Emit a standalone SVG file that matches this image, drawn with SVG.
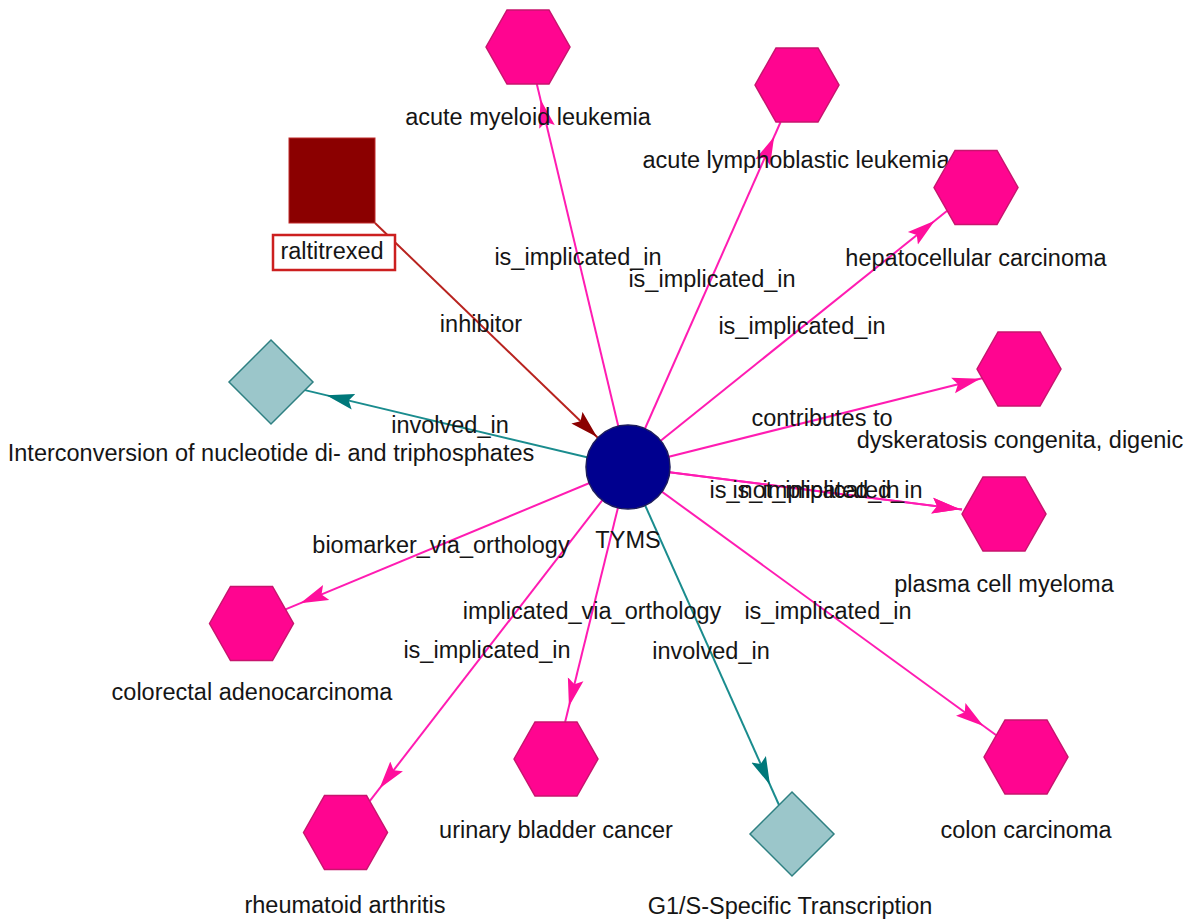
<svg xmlns="http://www.w3.org/2000/svg" xmlns:xlink="http://www.w3.org/1999/xlink" width="1189" height="922" viewBox="0 0 1189 922">
<style>
text{font-family:"Liberation Sans",Arial,Helvetica,sans-serif;font-size:23.5px;fill:#151515;text-anchor:middle}
.hex{fill:#ff0590;stroke:#c8146e;stroke-width:1.5}
.dia{fill:#9bc6ca;stroke:#2f8082;stroke-width:1.5}
.pk{stroke:#ff1cb2;stroke-width:2;fill:none;marker-end:url(#apk)}
.pk0{stroke:#ff1cb2;stroke-width:2;fill:none;marker-end:url(#apk0)}
.tl{stroke:#1a8c8e;stroke-width:2;fill:none;marker-end:url(#atl)}
.rd{stroke:#b8231f;stroke-width:2;fill:none;marker-end:url(#ard)}
</style>
<defs>
<polygon id="hexs" points="-42,0 -21,-37 21,-37 42,0 21,37 -21,37"/>
<polygon id="dias" points="0,-42 42,0 0,42 -42,0"/>
<marker id="apk" markerUnits="userSpaceOnUse" markerWidth="46" markerHeight="18" viewBox="0 0 46 18" refX="44" refY="9" orient="auto"><path d="M0,1 L28,9 L0,17 L5,9 z" fill="#ff0f9c"/></marker>
<marker id="apk0" markerUnits="userSpaceOnUse" markerWidth="32" markerHeight="18" viewBox="0 0 32 18" refX="30" refY="9" orient="auto"><path d="M0,1 L28,9 L0,17 L5,9 z" fill="#ff0f9c"/></marker>
<marker id="atl" markerUnits="userSpaceOnUse" markerWidth="52" markerHeight="18" viewBox="0 0 52 18" refX="50" refY="9" orient="auto"><path d="M0,1 L28,9 L0,17 L5,9 z" fill="#00787a"/></marker>
<marker id="ard" markerUnits="userSpaceOnUse" markerWidth="32" markerHeight="18" viewBox="0 0 32 18" refX="29" refY="9" orient="auto"><path d="M0,1 L28,9 L0,17 L5,9 z" fill="#8b0000"/></marker>
</defs>
<rect width="1189" height="922" fill="#ffffff"/>
<g id="edges">
<line class="pk" x1="628" y1="467" x2="536.8" y2="84"/>
<line class="pk" x1="628" y1="467" x2="780.6" y2="122"/>
<line class="pk" x1="628" y1="467" x2="947.2" y2="210.7"/>
<line class="pk0" x1="628" y1="467" x2="982.2" y2="378.2"/>
<line class="pk0" x1="628" y1="467" x2="962" y2="509.4"/>
<line class="pk0" x1="628" y1="467" x2="962" y2="509.4"/>
<line class="pk" x1="628" y1="467" x2="996.3" y2="735.3"/>
<line class="tl" x1="628" y1="467" x2="779" y2="805"/>
<line class="pk" x1="628" y1="467" x2="565.1" y2="722"/>
<line class="pk" x1="628" y1="467" x2="369.7" y2="801.2"/>
<line class="pk" x1="628" y1="467" x2="285.5" y2="609.4"/>
<line class="tl" x1="628" y1="467" x2="304.9" y2="390.1"/>
<line class="rd" x1="375" y1="223" x2="597.8" y2="437.8"/>
</g>
<g id="edge-labels">
<text x="578" y="265">is_implicated_in</text>
<text x="712" y="287">is_implicated_in</text>
<text x="802" y="334">is_implicated_in</text>
<text x="481" y="332">inhibitor</text>
<text x="450" y="433">involved_in</text>
<text x="822" y="426">contributes to</text>
<text x="816" y="498">is_not_implicated_in</text>
<text x="816" y="498">is_implicated_in</text>
<text x="441" y="553">biomarker_via_orthology</text>
<text x="592" y="619">implicated_via_orthology</text>
<text x="487" y="658">is_implicated_in</text>
<text x="711" y="659">involved_in</text>
<text x="828" y="619">is_implicated_in</text>
</g>
<g id="TYMS"><circle cx="628" cy="467" r="42" fill="#00008f" stroke="#1c1c5c" stroke-width="1.5"/><text x="628" y="548">TYMS</text></g>
<g id="raltitrexed"><rect x="289" y="138" width="86" height="85" fill="#8b0000" stroke="#c02a2a" stroke-width="1"/><rect x="273" y="235" width="122" height="35" fill="#ffffff" stroke="#cc1f1f" stroke-width="2.5"/><text x="332" y="259">raltitrexed</text></g>
<g id="acute-myeloid-leukemia"><use xlink:href="#hexs" class="hex" x="528" y="47"/><text x="528" y="125">acute myeloid leukemia</text></g>
<g id="acute-lymphoblastic-leukemia"><use xlink:href="#hexs" class="hex" x="797" y="85"/><text x="796" y="168">acute lymphoblastic leukemia</text></g>
<g id="hepatocellular-carcinoma"><use xlink:href="#hexs" class="hex" x="976" y="187.5"/><text x="976" y="266">hepatocellular carcinoma</text></g>
<g id="dyskeratosis-congenita-digenic"><use xlink:href="#hexs" class="hex" x="1019" y="369"/><text x="1020" y="448">dyskeratosis congenita, digenic</text></g>
<g id="plasma-cell-myeloma"><use xlink:href="#hexs" class="hex" x="1004" y="514"/><text x="1004" y="592">plasma cell myeloma</text></g>
<g id="colon-carcinoma"><use xlink:href="#hexs" class="hex" x="1026" y="757"/><text x="1026" y="838">colon carcinoma</text></g>
<g id="g1s-specific-transcription"><use xlink:href="#dias" class="dia" x="792" y="834"/><text x="790" y="914">G1/S-Specific Transcription</text></g>
<g id="urinary-bladder-cancer"><use xlink:href="#hexs" class="hex" x="556" y="759"/><text x="556" y="838">urinary bladder cancer</text></g>
<g id="rheumatoid-arthritis"><use xlink:href="#hexs" class="hex" x="345.5" y="832.5"/><text x="345" y="913">rheumatoid arthritis</text></g>
<g id="colorectal-adenocarcinoma"><use xlink:href="#hexs" class="hex" x="251.5" y="623.5"/><text x="252" y="700">colorectal adenocarcinoma</text></g>
<g id="interconversion"><use xlink:href="#dias" class="dia" x="271" y="382"/><text x="271" y="461">Interconversion of nucleotide di- and triphosphates</text></g>
</svg>
